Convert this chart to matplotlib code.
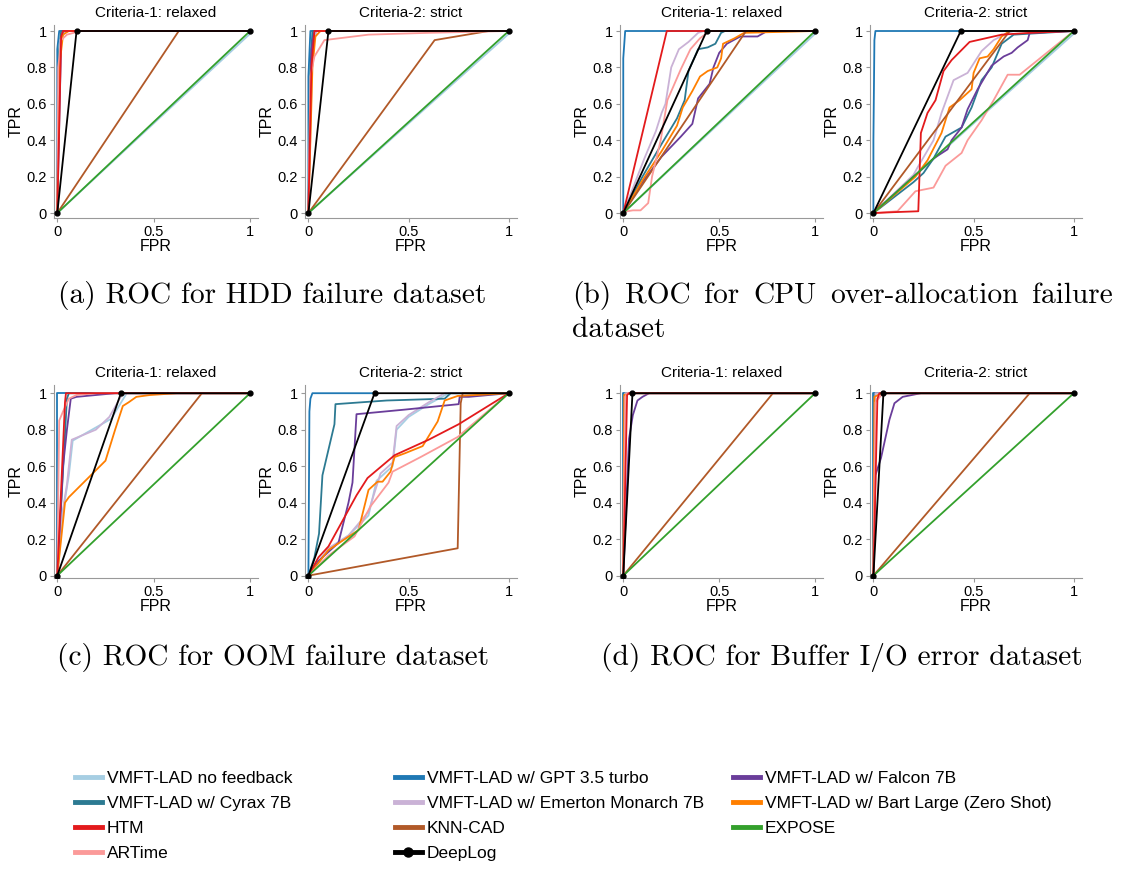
import matplotlib.pyplot as plt
from matplotlib.lines import Line2D

names = ["VMFT-LAD no feedback", "VMFT-LAD w/ GPT 3.5 turbo", "VMFT-LAD w/ Falcon 7B",
         "VMFT-LAD w/ Cyrax 7B", "VMFT-LAD w/ Emerton Monarch 7B",
         "VMFT-LAD w/ Bart Large (Zero Shot)", "HTM", "KNN-CAD", "EXPOSE", "ARTime", "DeepLog"]
colors = ["#a6cee3", "#1f78b4", "#6a3d9a", "#2c7a92", "#cab2d6",
          "#ff7f00", "#e31a1c", "#b15928", "#33a02c", "#fb9a99", "black"]
draw_order = [0, 1, 3, 4, 2, 5, 7, 9, 6, 8, 10]

# (fpr, tpr) per method, one dict per panel
hdd_relaxed = {
    "VMFT-LAD no feedback": ([0, 1], [0, 0.985]),
    "VMFT-LAD w/ GPT 3.5 turbo": ([0, 0, 0.01, 1], [0, 0.9, 1, 1]),
    "VMFT-LAD w/ Falcon 7B": ([0, 0.02, 0.03, 1], [0, 0.95, 1, 1]),
    "VMFT-LAD w/ Cyrax 7B": ([0, 0.01, 0.02, 1], [0, 0.9, 1, 1]),
    "VMFT-LAD w/ Emerton Monarch 7B": ([0, 0.015, 0.04, 1], [0, 0.95, 1, 1]),
    "VMFT-LAD w/ Bart Large (Zero Shot)": ([0, 0.01, 0.03, 0.06, 1], [0, 0.8, 0.98, 1, 1]),
    "HTM": ([0, 0.02, 0.03, 0.1, 1], [0, 0.97, 1, 1, 1]),
    "KNN-CAD": ([0, 0.63, 1], [0, 1, 1]),
    "EXPOSE": ([0, 1], [0, 1]),
    "ARTime": ([0, 0.005, 0.02, 0.05, 0.12, 1], [0, 0.8, 0.95, 0.98, 1, 1]),
    "DeepLog": ([0, 0.1, 1], [0, 1, 1]),
}
hdd_strict = {
    "VMFT-LAD no feedback": ([0, 1], [0, 0.985]),
    "VMFT-LAD w/ GPT 3.5 turbo": ([0, 0, 0.01, 1], [0, 0.75, 1, 1]),
    "VMFT-LAD w/ Falcon 7B": ([0, 0.015, 0.03, 1], [0, 0.9, 1, 1]),
    "VMFT-LAD w/ Cyrax 7B": ([0, 0.01, 0.02, 1], [0, 0.8, 1, 1]),
    "VMFT-LAD w/ Emerton Monarch 7B": ([0, 0.02, 0.04, 1], [0, 0.9, 1, 1]),
    "VMFT-LAD w/ Bart Large (Zero Shot)": ([0, 0.02, 0.035, 0.06, 1], [0, 0.8, 0.97, 1, 1]),
    "HTM": ([0, 0.015, 0.03, 0.1, 1], [0, 0.8, 1, 1, 1]),
    "KNN-CAD": ([0, 0.63, 0.9, 1], [0, 0.95, 1, 1]),
    "EXPOSE": ([0, 1], [0, 1]),
    "ARTime": ([0, 0.01, 0.03, 0.08, 0.3, 0.6, 1], [0, 0.75, 0.86, 0.95, 0.98, 0.99, 1]),
    "DeepLog": ([0, 0.1, 1], [0, 1, 1]),
}
cpu_relaxed = {
    "VMFT-LAD no feedback": ([0, 1], [0, 0.985]),
    "VMFT-LAD w/ GPT 3.5 turbo": ([0, 0, 0.01, 1], [0, 0.85, 1, 1]),
    "VMFT-LAD w/ Falcon 7B": ([0, 0.1, 0.2, 0.3, 0.36, 0.39, 0.45, 0.47, 0.5, 0.54, 0.61, 0.7, 0.75, 1],
                              [0, 0.17, 0.31, 0.42, 0.49, 0.63, 0.71, 0.8, 0.88, 0.93, 0.97, 0.97, 1, 1]),
    "VMFT-LAD w/ Cyrax 7B": ([0, 0.1, 0.2, 0.28, 0.32, 0.34, 0.39, 0.44, 0.48, 0.51, 0.53, 1],
                             [0, 0.2, 0.38, 0.52, 0.62, 0.78, 0.9, 0.91, 0.93, 0.99, 1, 1]),
    "VMFT-LAD w/ Emerton Monarch 7B": ([0, 0.11, 0.17, 0.2, 0.22, 0.25, 0.29, 0.34, 0.39, 0.42, 1],
                                       [0, 0.3, 0.45, 0.55, 0.6, 0.8, 0.9, 0.94, 0.99, 1, 1]),
    "VMFT-LAD w/ Bart Large (Zero Shot)": ([0, 0.1, 0.2, 0.28, 0.31, 0.36, 0.4, 0.44, 0.49, 0.51, 0.52, 0.58, 0.63, 1],
                                           [0, 0.18, 0.34, 0.48, 0.58, 0.67, 0.75, 0.78, 0.8, 0.85, 0.93, 0.96, 0.99, 1]),
    "HTM": ([0, 0.227, 1], [0, 1, 1]),
    "KNN-CAD": ([0, 0.64, 1], [0, 1, 1]),
    "EXPOSE": ([0, 1], [0, 1]),
    "ARTime": ([0, 0.02, 0.05, 0.09, 0.13, 0.15, 0.195, 0.23, 0.3, 0.35, 0.4, 0.45, 0.6, 1],
               [0, 0.01, 0.015, 0.015, 0.055, 0.2, 0.4, 0.62, 0.79, 0.9, 0.96, 1, 1, 1]),
    "DeepLog": ([0, 0.435, 1], [0, 1, 1]),
}
cpu_strict = {
    "VMFT-LAD no feedback": ([0, 1], [0, 0.985]),
    "VMFT-LAD w/ GPT 3.5 turbo": ([0, 0, 0.005, 0.01, 1], [0, 0.4, 0.95, 1, 1]),
    "VMFT-LAD w/ Falcon 7B": ([0, 0.2, 0.3, 0.37, 0.39, 0.44, 0.47, 0.52, 0.59, 0.65, 0.69, 0.72, 0.77, 0.78, 1],
                              [0, 0.2, 0.3, 0.35, 0.4, 0.47, 0.57, 0.68, 0.81, 0.86, 0.88, 0.91, 0.95, 0.99, 1]),
    "VMFT-LAD w/ Cyrax 7B": ([0, 0.2, 0.25, 0.3, 0.36, 0.44, 0.49, 0.54, 0.59, 0.64, 0.7, 1],
                             [0, 0.17, 0.22, 0.3, 0.42, 0.47, 0.58, 0.73, 0.8, 0.93, 0.98, 1]),
    "VMFT-LAD w/ Emerton Monarch 7B": ([0, 0.2, 0.22, 0.3, 0.34, 0.4, 0.47, 0.54, 0.6, 0.67, 0.7, 1],
                                       [0, 0.21, 0.25, 0.4, 0.55, 0.73, 0.77, 0.89, 0.95, 0.99, 1, 1]),
    "VMFT-LAD w/ Bart Large (Zero Shot)": ([0, 0.21, 0.27, 0.34, 0.38, 0.43, 0.49, 0.5, 0.53, 0.57, 0.6, 0.64, 0.68, 1],
                                           [0, 0.2, 0.29, 0.44, 0.58, 0.62, 0.68, 0.77, 0.85, 0.86, 0.9, 0.97, 1, 1]),
    "HTM": ([0, 0.1, 0.224, 0.237, 0.27, 0.31, 0.35, 0.39, 0.48, 0.64, 0.78, 1],
            [0, 0.005, 0.01, 0.44, 0.55, 0.62, 0.78, 0.84, 0.94, 0.98, 0.99, 1]),
    "KNN-CAD": ([0, 0.68, 1], [0, 1, 1]),
    "EXPOSE": ([0, 1], [0, 1]),
    "ARTime": ([0, 0.12, 0.21, 0.3, 0.36, 0.44, 0.47, 0.54, 0.6, 0.67, 0.73, 1],
               [0, 0.01, 0.12, 0.14, 0.26, 0.33, 0.4, 0.51, 0.62, 0.76, 0.76, 1]),
    "DeepLog": ([0, 0.436, 1], [0, 1, 1]),
}
oom_relaxed = {
    "VMFT-LAD no feedback": ([0, 0.03, 0.06, 0.08, 0.28, 0.36, 1], [0, 0.35, 0.55, 0.74, 0.86, 1, 1]),
    "VMFT-LAD w/ GPT 3.5 turbo": ([0, 0, 0.05, 1], [0, 1, 1, 1]),
    "VMFT-LAD w/ Falcon 7B": ([0, 0.03, 0.05, 0.07, 0.1, 0.2, 0.3, 1], [0, 0.6, 0.8, 0.97, 0.98, 0.99, 1, 1]),
    "VMFT-LAD w/ Cyrax 7B": ([0, 0.05, 0.06, 1], [0, 0.97, 1, 1]),
    "VMFT-LAD w/ Emerton Monarch 7B": ([0, 0.02, 0.05, 0.075, 0.2, 0.27, 0.34, 1],
                                       [0, 0.3, 0.5, 0.745, 0.8, 0.87, 1, 1]),
    "VMFT-LAD w/ Bart Large (Zero Shot)": ([0, 0.02, 0.04, 0.06, 0.25, 0.3, 0.34, 0.37, 0.41, 0.48, 0.62, 1],
                                           [0, 0.2, 0.4, 0.43, 0.63, 0.8, 0.93, 0.95, 0.98, 0.99, 1, 1]),
    "HTM": ([0, 0.04, 0.045, 1], [0, 0.95, 1, 1]),
    "KNN-CAD": ([0, 0.75, 1], [0, 1, 1]),
    "EXPOSE": ([0, 1], [0, 1]),
    "ARTime": ([0, 0.01, 0.03, 0.06, 0.1, 0.2, 1], [0, 0.85, 0.9, 0.97, 0.99, 1, 1]),
    "DeepLog": ([0, 0.33, 1], [0, 1, 1]),
}
oom_strict = {
    "VMFT-LAD no feedback": ([0, 0.1, 0.2, 0.3, 0.34, 0.42, 0.44, 0.5, 0.6, 0.7, 1],
                             [0, 0.14, 0.22, 0.33, 0.52, 0.6, 0.8, 0.87, 0.94, 1, 1]),
    "VMFT-LAD w/ GPT 3.5 turbo": ([0, 0.005, 0.01, 0.02, 0.33], [0, 0.9, 0.97, 1, 1]),
    "VMFT-LAD w/ Falcon 7B": ([0, 0.05, 0.1, 0.15, 0.2, 0.22, 0.24, 0.48, 0.75, 0.755, 0.8, 1],
                              [0, 0.08, 0.13, 0.18, 0.4, 0.51, 0.885, 0.91, 0.94, 0.98, 0.98, 1]),
    "VMFT-LAD w/ Cyrax 7B": ([0, 0.03, 0.053, 0.07, 0.13, 0.135, 0.39, 0.68, 0.71, 1],
                             [0, 0.1, 0.23, 0.55, 0.83, 0.94, 0.96, 0.97, 1, 1]),
    "VMFT-LAD w/ Emerton Monarch 7B": ([0, 0.1, 0.2, 0.3, 0.36, 0.42, 0.44, 0.5, 0.6, 0.68, 1],
                                       [0, 0.15, 0.22, 0.35, 0.56, 0.62, 0.82, 0.88, 0.95, 1, 1]),
    "VMFT-LAD w/ Bart Large (Zero Shot)": ([0, 0.1, 0.25, 0.3, 0.345, 0.37, 0.41, 0.43, 0.48, 0.57, 0.645, 0.68, 0.745, 1],
                                           [0, 0.14, 0.25, 0.47, 0.515, 0.515, 0.57, 0.65, 0.67, 0.71, 0.845, 0.96, 0.985, 1]),
    "HTM": ([0, 0.05, 0.1, 0.145, 0.24, 0.295, 0.43, 0.6, 0.75, 1],
            [0, 0.1, 0.16, 0.25, 0.44, 0.535, 0.66, 0.745, 0.83, 1]),
    "KNN-CAD": ([0, 0.745, 0.76, 0.77, 1], [0, 0.15, 0.945, 1, 1]),
    "EXPOSE": ([0, 1], [0, 1]),
    "ARTime": ([0, 0.1, 0.23, 0.31, 0.4, 0.42, 0.56, 0.745, 1],
               [0, 0.11, 0.215, 0.38, 0.51, 0.57, 0.65, 0.76, 1]),
    "DeepLog": ([0, 0.33, 1], [0, 1, 1]),
}
buf_relaxed = {
    "VMFT-LAD no feedback": ([0, 0.005, 1], [0, 1, 1]),
    "VMFT-LAD w/ GPT 3.5 turbo": ([0, 0, 1], [0, 1, 1]),
    "VMFT-LAD w/ Falcon 7B": ([0, 0.03, 0.05, 0.074, 0.1, 0.135, 1], [0, 0.75, 0.88, 0.96, 0.98, 1, 1]),
    "VMFT-LAD w/ Cyrax 7B": ([0, 0.005, 1], [0, 1, 1]),
    "VMFT-LAD w/ Emerton Monarch 7B": ([0, 0.01, 1], [0, 1, 1]),
    "VMFT-LAD w/ Bart Large (Zero Shot)": ([0, 0.005, 0.04, 1], [0, 0.99, 1, 1]),
    "HTM": ([0, 0.02, 0.03, 1], [0, 0.99, 1, 1]),
    "KNN-CAD": ([0, 0.78, 1], [0, 1, 1]),
    "EXPOSE": ([0, 1], [0, 1]),
    "ARTime": ([0, 0.01, 0.02, 1], [0, 0.98, 1, 1]),
    "DeepLog": ([0, 0.048, 1], [0, 1, 1]),
}
buf_strict = {
    "VMFT-LAD no feedback": ([0, 0.005, 1], [0, 1, 1]),
    "VMFT-LAD w/ GPT 3.5 turbo": ([0, 0, 1], [0, 1, 1]),
    "VMFT-LAD w/ Falcon 7B": ([0, 0.01, 0.038, 0.08, 0.105, 0.146, 0.237, 1],
                              [0, 0.55, 0.645, 0.855, 0.945, 0.98, 1, 1]),
    "VMFT-LAD w/ Cyrax 7B": ([0, 0.005, 1], [0, 1, 1]),
    "VMFT-LAD w/ Emerton Monarch 7B": ([0, 0.01, 1], [0, 1, 1]),
    "VMFT-LAD w/ Bart Large (Zero Shot)": ([0, 0.005, 0.04, 1], [0, 0.98, 1, 1]),
    "HTM": ([0, 0.02, 0.03, 1], [0, 0.97, 1, 1]),
    "KNN-CAD": ([0, 0.78, 1], [0, 1, 1]),
    "EXPOSE": ([0, 1], [0, 1]),
    "ARTime": ([0, 0.01, 0.04, 0.05, 1], [0, 0.95, 0.99, 1, 1]),
    "DeepLog": ([0, 0.05, 1], [0, 1, 1]),
}

panels = [hdd_relaxed, hdd_strict, cpu_relaxed, cpu_strict,
          oom_relaxed, oom_strict, buf_relaxed, buf_strict]
titles = ["Criteria-1: relaxed", "Criteria-2: strict"] * 4

W, H = 1126, 869
fig = plt.figure(figsize=(W / 100, H / 100), dpi=100)
plt.rcParams['font.family'] = ['Liberation Sans', 'DejaVu Sans']

lefts = [54, 305, 620, 870]
rights = [258, 517, 823, 1082]
rows = [(25, 218, (-0.027, 1.033)), (385, 578, (-0.013, 1.045))]

for k, data in enumerate(panels):
    r, c = k // 4, k % 4
    top, bot, ylim = rows[r]
    ax = fig.add_axes([lefts[c] / W, 1 - bot / H, (rights[c] - lefts[c]) / W, (bot - top) / H])
    for i in draw_order:
        nm = names[i]
        x, y = data[nm]
        if nm == "DeepLog":
            ax.plot(x, y, color=colors[i], lw=1.3, marker="o", ms=3.5, zorder=5)
        else:
            ax.plot(x, y, color=colors[i], lw=1.3)
    ax.set_xlim(-0.017, 1.041)
    ax.set_ylim(*ylim)
    ax.set_xticks([0, 0.5, 1])
    ax.set_xticklabels(["0", "0.5", "1"])
    ax.set_yticks([0, 0.2, 0.4, 0.6, 0.8, 1])
    ax.set_yticklabels(["0", "0.2", "0.4", "0.6", "0.8", "1"])
    ax.tick_params(labelsize=10.5, length=3, color="#999999", pad=2)
    ax.spines["top"].set_visible(False)
    ax.spines["right"].set_visible(False)
    ax.spines["left"].set_color("#999999")
    ax.spines["bottom"].set_color("#999999")
    ax.set_xlabel("FPR", fontsize=11.5, labelpad=0)
    ax.set_ylabel("TPR", fontsize=11.5, labelpad=2)
    ax.set_title(titles[k], fontsize=11, pad=6)

cap = dict(family="cmr10", fontsize=21.2, va="center")
fig.text(272 / W, 1 - 296 / H, "(a) ROC for HDD failure dataset", ha="center", **cap)
# justified two-line caption for (b)
words_b = ["(b)", "ROC", "for", "CPU", "over-allocation", "failure"]
tx = [fig.text(0, 1 - 296 / H, w, ha="left", **cap) for w in words_b]
fig.canvas.draw()
rend = fig.canvas.get_renderer()
widths = [t.get_window_extent(rend).width for t in tx]
gap = (1113 - 572 - sum(widths)) / (len(words_b) - 1)
xpos = 572
for t, w in zip(tx, widths):
    t.set_x(xpos / W)
    xpos += w + gap
fig.text(572 / W, 1 - 330 / H, "dataset", ha="left", **cap)
fig.text(273 / W, 1 - 657 / H, "(c) ROC for OOM failure dataset", ha="center", **cap)
fig.text(842 / W, 1 - 657 / H, "(d) ROC for Buffer I/O error dataset", ha="center", **cap)

# legend in three columns
cols = [[0, 3, 6, 9], [1, 4, 7, 10], [2, 5, 8]]
col_x = [75, 395, 733]
for cx, idx in zip(col_x, cols):
    handles = []
    for i in idx:
        if names[i] == "DeepLog":
            handles.append(Line2D([], [], color=colors[i], lw=3.5, marker="o", ms=6.5))
        else:
            handles.append(Line2D([], [], color=colors[i], lw=3.5))
    fig.legend(handles, [names[i] for i in idx], loc="upper left",
               bbox_to_anchor=(cx / W, 1 - 771 / H), frameon=False, fontsize=12.5,
               handlelength=1.55, handletextpad=0.3, labelspacing=0.56,
               borderaxespad=0, borderpad=0)

fig.savefig("out.png", dpi=100)
